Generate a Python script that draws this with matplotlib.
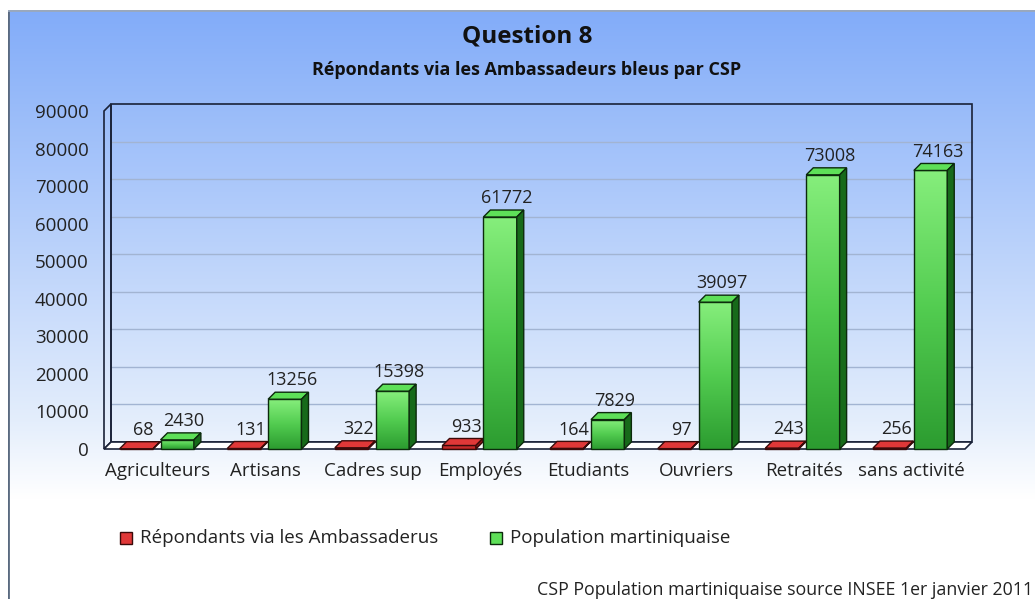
import numpy as np
import matplotlib.pyplot as plt
from matplotlib.patches import Polygon, Rectangle
from matplotlib.colors import LinearSegmentedColormap

categories = ['Agriculteurs', 'Artisans', 'Cadres sup', 'Employés',
              'Etudiants', 'Ouvriers', 'Retraités', 'sans activité']
repondants = [68, 131, 322, 933, 164, 97, 243, 256]
population = [2430, 13256, 15398, 61772, 7829, 39097, 73008, 74163]
yticks = [0, 10000, 20000, 30000, 40000, 50000, 60000, 70000, 80000, 90000]

plt.rcParams['font.family'] = ['Open Sans', 'DejaVu Sans']
W, H = 1035, 599
fig = plt.figure(figsize=(W / 100, H / 100), dpi=100)

# background gradient (chart frame starts at x=8, y=10)
bg = fig.add_axes([8 / W, 0, 1 - 8 / W, (H - 10) / H])
bg.set_axis_off()
bg_cmap = LinearSegmentedColormap.from_list(
    'bg', [(0, '#ffffff'), (0.17, '#ffffff'), (0.3, '#e4eefc'), (1, '#82acf9')])
grad = np.linspace(0, 1, 256).reshape(-1, 1)
bg.imshow(grad, aspect='auto', cmap=bg_cmap, origin='lower', extent=[0, 1, 0, 1])
bg.set_xlim(0, 1)
bg.set_ylim(0, 1)
bg.plot([0, 0], [0, 1], color='#5a6a80', lw=2)
bg.plot([0, 1], [1, 1], color='#9aa8bc', lw=2)

# front plane of the 3d plot
left, right, top, bottom = 104, 965, 111, 449
ax = fig.add_axes([left / W, (H - bottom) / H, (right - left) / W, (bottom - top) / H])
ax.set_facecolor('none')
ax.set_xlim(-0.5, 7.5)
ax.set_ylim(0, 90000)
for s in ax.spines.values():
    s.set_visible(False)

depth = 7
dx = depth * 8 / (right - left)
dy = depth * 90000 / (bottom - top)
edge = '#1a2238'

# walls
for v in yticks[1:-1]:
    ax.plot([-0.5 + dx, 7.5 + dx], [v + dy, v + dy], color='#a2b4d2', lw=1,
            clip_on=False, zorder=1)
ax.add_patch(Rectangle((-0.5 + dx, dy), 8, 90000, fill=False, ec=edge, lw=1.2,
                       clip_on=False, zorder=2))
ax.add_patch(Polygon([(-0.5, 0), (-0.5, 90000), (-0.5 + dx, 90000 + dy), (-0.5 + dx, dy)],
                     closed=True, fc='none', ec=edge, lw=1.2, clip_on=False, zorder=2))
ax.add_patch(Polygon([(-0.5, 0), (7.5, 0), (7.5 + dx, dy), (-0.5 + dx, dy)],
                     closed=True, fc='#ffffff', ec=edge, lw=1.2, clip_on=False, zorder=2))

green_cmap = LinearSegmentedColormap.from_list('g', ['#2c9c30', '#52cc50', '#86ee7c'])
red_cmap = LinearSegmentedColormap.from_list('r', ['#b01c1c', '#e84040'])
width = 0.31


def bar3d(x0, v, cmap, topc, sidec, ec):
    x1 = x0 + width
    front = Rectangle((x0, 0), width, v, fc='none', ec=ec, lw=1, zorder=4, clip_on=False)
    ax.add_patch(front)
    im = ax.imshow(np.linspace(0, 1, 128).reshape(-1, 1), cmap=cmap, origin='lower',
                   aspect='auto', extent=[x0, x1, 0, v], zorder=3, clip_on=False)
    im.set_clip_path(front)
    ax.add_patch(Polygon([(x0, v), (x1, v), (x1 + dx, v + dy), (x0 + dx, v + dy)],
                         closed=True, fc=topc, ec=ec, lw=1, zorder=4, clip_on=False))
    ax.add_patch(Polygon([(x1, 0), (x1, v), (x1 + dx, v + dy), (x1 + dx, dy)],
                         closed=True, fc=sidec, ec=ec, lw=1, zorder=4, clip_on=False))


x = np.arange(len(categories))
for i in range(len(categories)):
    xr = x[i] - 0.2 - width / 2
    xg = x[i] + 0.18 - width / 2
    bar3d(xr, repondants[i], red_cmap, '#e03838', '#8a1515', '#3a0a0a')
    bar3d(xg, population[i], green_cmap, '#5ee058', '#176a1a', '#0c2a0c')
    ax.annotate(str(repondants[i]), (xr + width / 2 + dx, repondants[i] + dy),
                xytext=(0, 2), textcoords='offset points', ha='center', va='bottom',
                fontsize=13, color='#222222', zorder=6)
    ax.annotate(str(population[i]), (xg + width / 2 + dx, population[i] + dy),
                xytext=(0, 2), textcoords='offset points', ha='center', va='bottom',
                fontsize=13, color='#222222', zorder=6)

ax.set_xticks(x)
ax.set_xticklabels(categories, fontsize=13.5, color='#222222')
ax.set_yticks(yticks)
ax.set_yticklabels([str(v) for v in yticks], fontsize=13.5, color='#222222')
ax.tick_params(axis='both', length=0)
ax.tick_params(axis='x', pad=9)
ax.tick_params(axis='y', pad=11)

fig.text(527 / W, 1 - 37 / H, 'Question 8', ha='center', va='center',
         fontsize=17.5, fontweight='bold', color='#111111')
fig.text(527 / W, 1 - 70 / H, 'Répondants via les Ambassadeurs bleus par CSP',
         ha='center', va='center', fontsize=13, fontweight='bold', color='#111111')

# legend
for sx, col, ec, label in [(120, '#e03838', '#3a0a0a', 'Répondants via les Ambassaderus'),
                           (490, '#5ee058', '#0c2a0c', 'Population martiniquaise')]:
    fig.patches.append(Rectangle((sx / W, 1 - 544 / H), 12 / W, 12 / H, fc=col, ec=ec,
                                 lw=1, transform=fig.transFigure, figure=fig))
    fig.text((sx + 20) / W, 1 - 538 / H, label, ha='left', va='center',
             fontsize=13.5, color='#222222')

fig.text(537 / W, 1 - 590 / H, 'CSP Population martiniquaise source INSEE 1er janvier 2011',
         ha='left', va='center', fontsize=12.8, color='#222222')

fig.savefig('out.png', dpi=100)
